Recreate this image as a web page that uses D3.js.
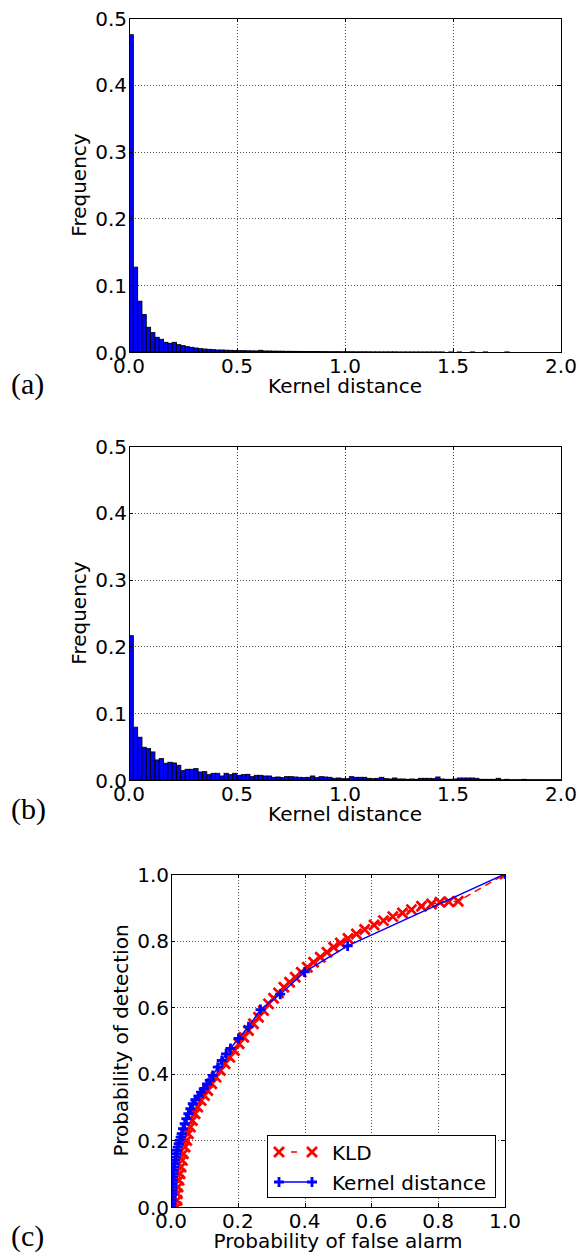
<!DOCTYPE html>
<html><head><meta charset="utf-8">
<script src="https://cdn.jsdelivr.net/npm/d3@7"></script>
<style>
html,body{margin:0;padding:0;background:#fff;}
svg{display:block;}
text{font-family:"DejaVu Sans",sans-serif;font-size:20px;fill:#000;}
</style></head><body>
<svg id="fig" width="582" height="1257"></svg>
<script>
// Histogram bins: 100 bins of width 0.02 over [0, 2]
const binWidth = 0.02;
const binLeft = d3.range(100).map(i => +(i * binWidth).toFixed(2));

// (a) frequency of kernel distance
const histKernelA = [
  0.475, 0.127, 0.076, 0.056, 0.037, 0.029, 0.022, 0.019, 0.0145, 0.013,
  0.0145, 0.011, 0.0095, 0.008, 0.007, 0.006, 0.005, 0.0045, 0.004, 0.0035,
  0.003, 0.003, 0.0027, 0.0025, 0.0022, 0.002, 0.002, 0.0018, 0.0017, 0.0016,
  0.0025, 0.0015, 0.0015, 0.0013, 0.0012, 0.0012, 0.001, 0.001, 0.0009, 0.0009,
  0.0008, 0.0008, 0.0007, 0.0007, 0.0006, 0.0006, 0.0005, 0.0005, 0.0005, 0.0004,
  0.0004, 0.0004, 0.0003, 0.0003, 0.0003, 0.0003, 0.0002, 0.0002, 0.0002, 0.0002,
  0.0002, 0.0002, 0.0001, 0.0001, 0.0001, 0.0001, 0.0001, 0.0001, 0.0001, 0.0001,
  0.0001, 0.0001, 0.0001, 0, 0.0001, 0, 0.0001, 0, 0, 0.0001,
  0, 0, 0.0001, 0, 0, 0, 0, 0.0001, 0, 0,
  0, 0, 0, 0, 0, 0, 0, 0, 0, 0
];

// (b) frequency of kernel distance
const histKernelB = [
  0.216, 0.079, 0.064, 0.049, 0.047, 0.042, 0.030, 0.032, 0.025, 0.0265,
  0.0255, 0.022, 0.014, 0.016, 0.016, 0.017, 0.012, 0.0125, 0.008, 0.010,
  0.010, 0.006, 0.010, 0.008, 0.010, 0.007, 0.008, 0.0085, 0.005, 0.007,
  0.007, 0.006, 0.006, 0.004, 0.0045, 0.0035, 0.005, 0.005, 0.0045, 0.004,
  0.0035, 0.004, 0.006, 0.0035, 0.005, 0.0045, 0.004, 0.0025, 0.003, 0.002,
  0.002, 0.005, 0.004, 0.004, 0.004, 0.0025, 0.002, 0.0025, 0.004, 0.002,
  0.0015, 0.003, 0.0015, 0.0015, 0.001, 0.0015, 0.001, 0.0025, 0.0025, 0.0025,
  0.002, 0.0045, 0.0015, 0.001, 0.001, 0.0015, 0.003, 0.003, 0.003, 0.003,
  0.0025, 0.001, 0.001, 0.001, 0.001, 0.0025, 0.0005, 0.001, 0.0005, 0.0005,
  0.0005, 0.001, 0.0005, 0.0005, 0.0005, 0.0005, 0.0005, 0.0005, 0.0005, 0.0005
];

const histTicksX = [0, 0.5, 1.0, 1.5, 2.0];
const histTicksY = [0, 0.1, 0.2, 0.3, 0.4, 0.5];
const rocTicks = [0, 0.2, 0.4, 0.6, 0.8, 1.0];

// (c) ROC curves: probability of false alarm / detection
const kldPfa = [0.017, 0.018, 0.019, 0.021, 0.024, 0.027, 0.030, 0.034, 0.037, 0.042,
  0.047, 0.052, 0.058, 0.064, 0.072, 0.080, 0.090, 0.100, 0.110, 0.122,
  0.135, 0.148, 0.162, 0.176, 0.190, 0.204, 0.218, 0.232, 0.247, 0.262,
  0.277, 0.292, 0.307, 0.322, 0.338, 0.355, 0.372, 0.390, 0.408, 0.427,
  0.447, 0.467, 0.487, 0.507, 0.530, 0.555, 0.580, 0.608, 0.636, 0.664,
  0.693, 0.720, 0.750, 0.780, 0.805, 0.832, 0.860, 1.0];
const kldPd = [0.000, 0.020, 0.040, 0.060, 0.080, 0.100, 0.120, 0.140, 0.160, 0.180,
  0.200, 0.220, 0.240, 0.260, 0.280, 0.300, 0.320, 0.335, 0.350, 0.370,
  0.390, 0.410, 0.430, 0.450, 0.470, 0.490, 0.510, 0.530, 0.550, 0.570,
  0.590, 0.610, 0.627, 0.643, 0.660, 0.675, 0.690, 0.705, 0.720, 0.735,
  0.750, 0.765, 0.780, 0.793, 0.806, 0.820, 0.833, 0.847, 0.860, 0.872,
  0.883, 0.893, 0.903, 0.910, 0.915, 0.917, 0.918, 1.0];

const kdPfa = [0, 0.001, 0.002, 0.002, 0.003, 0.003, 0.004, 0.004, 0.005, 0.006,
  0.007, 0.008, 0.009, 0.011, 0.012, 0.014, 0.016, 0.018, 0.020, 0.023,
  0.026, 0.029, 0.032, 0.036, 0.041, 0.046, 0.052, 0.058, 0.065, 0.073,
  0.082, 0.090, 0.098, 0.108, 0.116, 0.125, 0.140, 0.152, 0.165, 0.178,
  0.202, 0.232, 0.268, 0.327, 0.400, 0.529, 1.0];
const kdPd = [0, 0.010, 0.020, 0.030, 0.040, 0.050, 0.060, 0.070, 0.080, 0.090,
  0.100, 0.110, 0.120, 0.130, 0.140, 0.150, 0.160, 0.170, 0.180, 0.190,
  0.200, 0.210, 0.220, 0.235, 0.250, 0.265, 0.280, 0.295, 0.310, 0.322,
  0.333, 0.345, 0.355, 0.370, 0.380, 0.395, 0.420, 0.440, 0.460, 0.476,
  0.506, 0.541, 0.593, 0.639, 0.706, 0.784, 1.0];

const legendLabels = ["KLD", "Kernel distance"];
const panelLabels = ["(a)", "(b)", "(c)"];

const svg = d3.select("#fig");
svg.append("rect").attr("width", 582).attr("height", 1257).attr("fill", "#fff");
const fmt = d3.format(".1f");

// Axes box with dotted grid, inward ticks on all sides and tick labels
function makeAxes(id, box, xDomain, yDomain, xTicks, yTicks) {
  const x = d3.scaleLinear().domain(xDomain).range([box.left, box.left + box.width]);
  const y = d3.scaleLinear().domain(yDomain).range([box.top + box.height, box.top]);
  const g = svg.append("g");
  const grid = g.append("g").attr("stroke", "#000").attr("stroke-width", 0.7)
    .attr("stroke-dasharray", "1,2");
  grid.selectAll("line.gx").data(xTicks.slice(1, -1)).join("line")
    .attr("x1", d => Math.round(x(d)) + 0.5).attr("x2", d => Math.round(x(d)) + 0.5)
    .attr("y1", box.top).attr("y2", box.top + box.height);
  grid.selectAll("line.gy").data(yTicks.slice(1, -1)).join("line")
    .attr("y1", d => Math.round(y(d)) + 0.5).attr("y2", d => Math.round(y(d)) + 0.5)
    .attr("x1", box.left).attr("x2", box.left + box.width);
  svg.append("clipPath").attr("id", id).append("rect")
    .attr("x", box.left).attr("y", box.top).attr("width", box.width).attr("height", box.height);
  const data = g.append("g").attr("clip-path", `url(#${id})`);
  const finish = () => {
    const fr = g.append("g").attr("stroke", "#000").attr("stroke-width", 1).attr("fill", "none");
    fr.append("rect").attr("x", box.left + 0.5).attr("y", box.top + 0.5)
      .attr("width", box.width).attr("height", box.height);
    const tl = 4;
    xTicks.forEach(t => {
      const px = Math.round(x(t)) + 0.5;
      fr.append("line").attr("x1", px).attr("x2", px).attr("y1", box.top + box.height).attr("y2", box.top + box.height - tl);
      fr.append("line").attr("x1", px).attr("x2", px).attr("y1", box.top).attr("y2", box.top + tl);
    });
    yTicks.forEach(t => {
      const py = Math.round(y(t)) + 0.5;
      fr.append("line").attr("y1", py).attr("y2", py).attr("x1", box.left).attr("x2", box.left + tl);
      fr.append("line").attr("y1", py).attr("y2", py).attr("x1", box.left + box.width).attr("x2", box.left + box.width - tl);
    });
    g.selectAll("text.xt").data(xTicks).join("text")
      .attr("x", d => x(d)).attr("y", box.top + box.height + 21)
      .attr("text-anchor", "middle").text(d => fmt(d));
    g.selectAll("text.yt").data(yTicks).join("text")
      .attr("x", box.left - 2).attr("y", d => y(d) + 7.5)
      .attr("text-anchor", "end").text(d => fmt(d));
  };
  return { x, y, g, data, finish };
}

function histogram(id, box, values, panel, panelY) {
  const ax = makeAxes(id, box, [0, 2], [0, 0.5], histTicksX, histTicksY);
  ax.data.selectAll("rect").data(values).join("rect")
    .attr("x", (d, i) => ax.x(binLeft[i]))
    .attr("width", (d, i) => ax.x(binLeft[i] + binWidth) - ax.x(binLeft[i]))
    .attr("y", d => ax.y(d))
    .attr("height", d => ax.y(0) - ax.y(d))
    .attr("fill", "#0000ff").attr("stroke", "#000").attr("stroke-width", 0.9);
  ax.finish();
  ax.g.append("text").attr("x", box.left + box.width / 2).attr("y", box.top + box.height + 41)
    .attr("text-anchor", "middle").text("Kernel distance");
  ax.g.append("text").attr("transform", `translate(86,${box.top + box.height / 2}) rotate(-90)`)
    .attr("text-anchor", "middle").text("Frequency");
  ax.g.append("text").attr("x", 11).attr("y", panelY)
    .style("font-family", "'Liberation Serif',serif").style("font-size", "30px").text(panel);
}

histogram("clipA", { left: 129, top: 18, width: 432, height: 334 }, histKernelA, panelLabels[0], 394);
histogram("clipB", { left: 129, top: 446, width: 432, height: 334 }, histKernelB, panelLabels[1], 819);

// (c) ROC curves
const boxC = { left: 171, top: 874, width: 334, height: 333 };
const rc = makeAxes("clipC", boxC, [0, 1], [0, 1], rocTicks, rocTicks);
const kld = kldPfa.map((v, i) => [v, kldPd[i]]);
const kd = kdPfa.map((v, i) => [v, kdPd[i]]);
const line = d3.line().x(d => rc.x(d[0])).y(d => rc.y(d[1]));
const red = "#ff0000", blue = "#0000ff";
const ms = 5;

function crossMark(sel, cx, cy, color) {
  sel.append("path").attr("d", `M${cx - ms},${cy - ms}L${cx + ms},${cy + ms}M${cx - ms},${cy + ms}L${cx + ms},${cy - ms}`)
    .attr("stroke", color).attr("stroke-width", 2.8).attr("fill", "none");
}
function plusMark(sel, cx, cy, color) {
  sel.append("path").attr("d", `M${cx - ms},${cy}L${cx + ms},${cy}M${cx},${cy - ms}L${cx},${cy + ms}`)
    .attr("stroke", color).attr("stroke-width", 2.8).attr("fill", "none");
}

rc.data.append("path").datum(kld).attr("d", line).attr("fill", "none")
  .attr("stroke", red).attr("stroke-width", 1.5).attr("stroke-dasharray", "7,5");
const redMarks = rc.data.append("g");
kld.forEach(p => crossMark(redMarks, rc.x(p[0]), rc.y(p[1]), red));

rc.data.append("path").datum(kd).attr("d", line).attr("fill", "none")
  .attr("stroke", blue).attr("stroke-width", 1.5);
const blueMarks = rc.data.append("g");
kd.forEach(p => plusMark(blueMarks, rc.x(p[0]), rc.y(p[1]), blue));

rc.finish();
rc.g.append("text").attr("x", boxC.left + boxC.width / 2).attr("y", 1248)
  .attr("text-anchor", "middle").text("Probability of false alarm");
rc.g.append("text").attr("transform", `translate(128,${boxC.top + boxC.height / 2}) rotate(-90)`)
  .attr("text-anchor", "middle").text("Probability of detection");
rc.g.append("text").attr("x", 11).attr("y", 1246)
  .style("font-family", "'Liberation Serif',serif").style("font-size", "30px").text(panelLabels[2]);

// Legend
const lg = svg.append("g");
lg.append("rect").attr("x", 267.5).attr("y", 1135.5).attr("width", 228).attr("height", 62)
  .attr("fill", "#fff").attr("stroke", "#000").attr("stroke-width", 1);
const rows = [
  { label: legendLabels[0], color: red, dash: "0,12,6,40", mark: crossMark, y: 1152 },
  { label: legendLabels[1], color: blue, dash: null, mark: plusMark, y: 1182 }
];
rows.forEach(r => {
  lg.append("line").attr("x1", 279).attr("x2", 312).attr("y1", r.y).attr("y2", r.y)
    .attr("stroke", r.color).attr("stroke-width", 1.5).attr("stroke-dasharray", r.dash);
  r.mark(lg, 279, r.y, r.color);
  r.mark(lg, 312, r.y, r.color);
  lg.append("text").attr("x", 332).attr("y", r.y + 7.5).text(r.label);
});
</script>
</body></html>
